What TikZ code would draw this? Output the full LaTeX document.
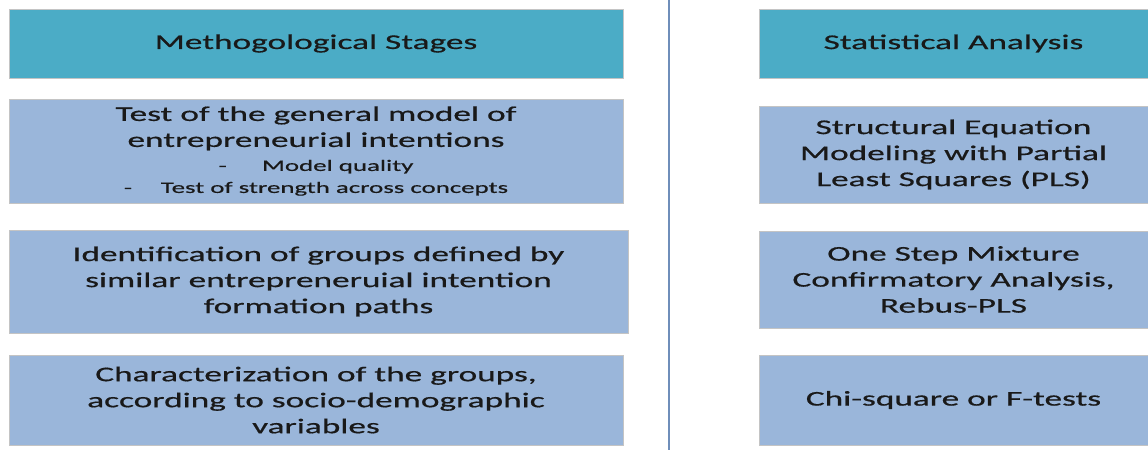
\documentclass[tikz,border=0pt]{standalone}
\usepackage{fontspec}
\setmainfont{Carlito}[FakeStretch=1.68,FakeBold=0.6]
\definecolor{headteal}{HTML}{4BACC6}
\definecolor{stageblue}{HTML}{9AB6DA}
\definecolor{rimgray}{HTML}{C4C4C4}
\definecolor{splitblue}{HTML}{6F8EBA}
\tikzset{
  headbox/.style={draw=rimgray,fill=headteal,line width=0.8pt,inner sep=0pt,align=center,
    font=\fontsize{21}{26}\selectfont,text=black!90},
  stagebox/.style={draw=rimgray,fill=stageblue,line width=0.8pt,inner sep=0pt,align=center,
    font=\fontsize{21}{26}\selectfont,text=black!90},
}
\newcommand{\smalltxt}{\fontsize{16}{20}\selectfont}
\begin{document}
\begin{tikzpicture}[x=1pt,y=1pt]
\useasboundingbox (0,0) rectangle (1148,450);
% left column
\node[headbox,minimum width=614,minimum height=69] (mhead) at (316,406.5) {Methogological Stages};
\node[stagebox,minimum width=614,minimum height=104] (mtest) at (316,299)
  {Test of the general model of\\ entrepreneurial intentions\\[-2pt]
   {\smalltxt -\hspace{2.2em}Model quality}\\[-4pt]
   {\smalltxt -\hspace{1.8em}Test of strength across concepts}};
\node[stagebox,minimum width=619,minimum height=103] (mgroup) at (318.5,168.5)
  {Identification of groups defined by\\ similar entrepreneruial intention\\ formation paths};
\node[stagebox,minimum width=614,minimum height=90] (mchar) at (316,50)
  {Characterization of the groups,\\ according to socio-demographic\\ variables};
% divider
\coordinate (stop) at (669,450);
\coordinate (sbot) at (669,0);
\draw[splitblue,line width=2pt] (stop) -- (sbot);
% right column
\node[headbox,minimum width=389,minimum height=69] (shead) at (953.5,406.5) {Statistical Analysis};
\node[stagebox,minimum width=389,minimum height=97] (ssem) at (953.5,295.5)
  {Structural Equation\\ Modeling with Partial\\ Least Squares (PLS)};
\node[stagebox,minimum width=389,minimum height=97] (smix) at (953.5,170.5)
  {One Step Mixture\\ Confirmatory Analysis,\\ Rebus-PLS};
\node[stagebox,minimum width=389,minimum height=90] (schi) at (953.5,50)
  {Chi-square or F-tests};
\end{tikzpicture}
\end{document}
